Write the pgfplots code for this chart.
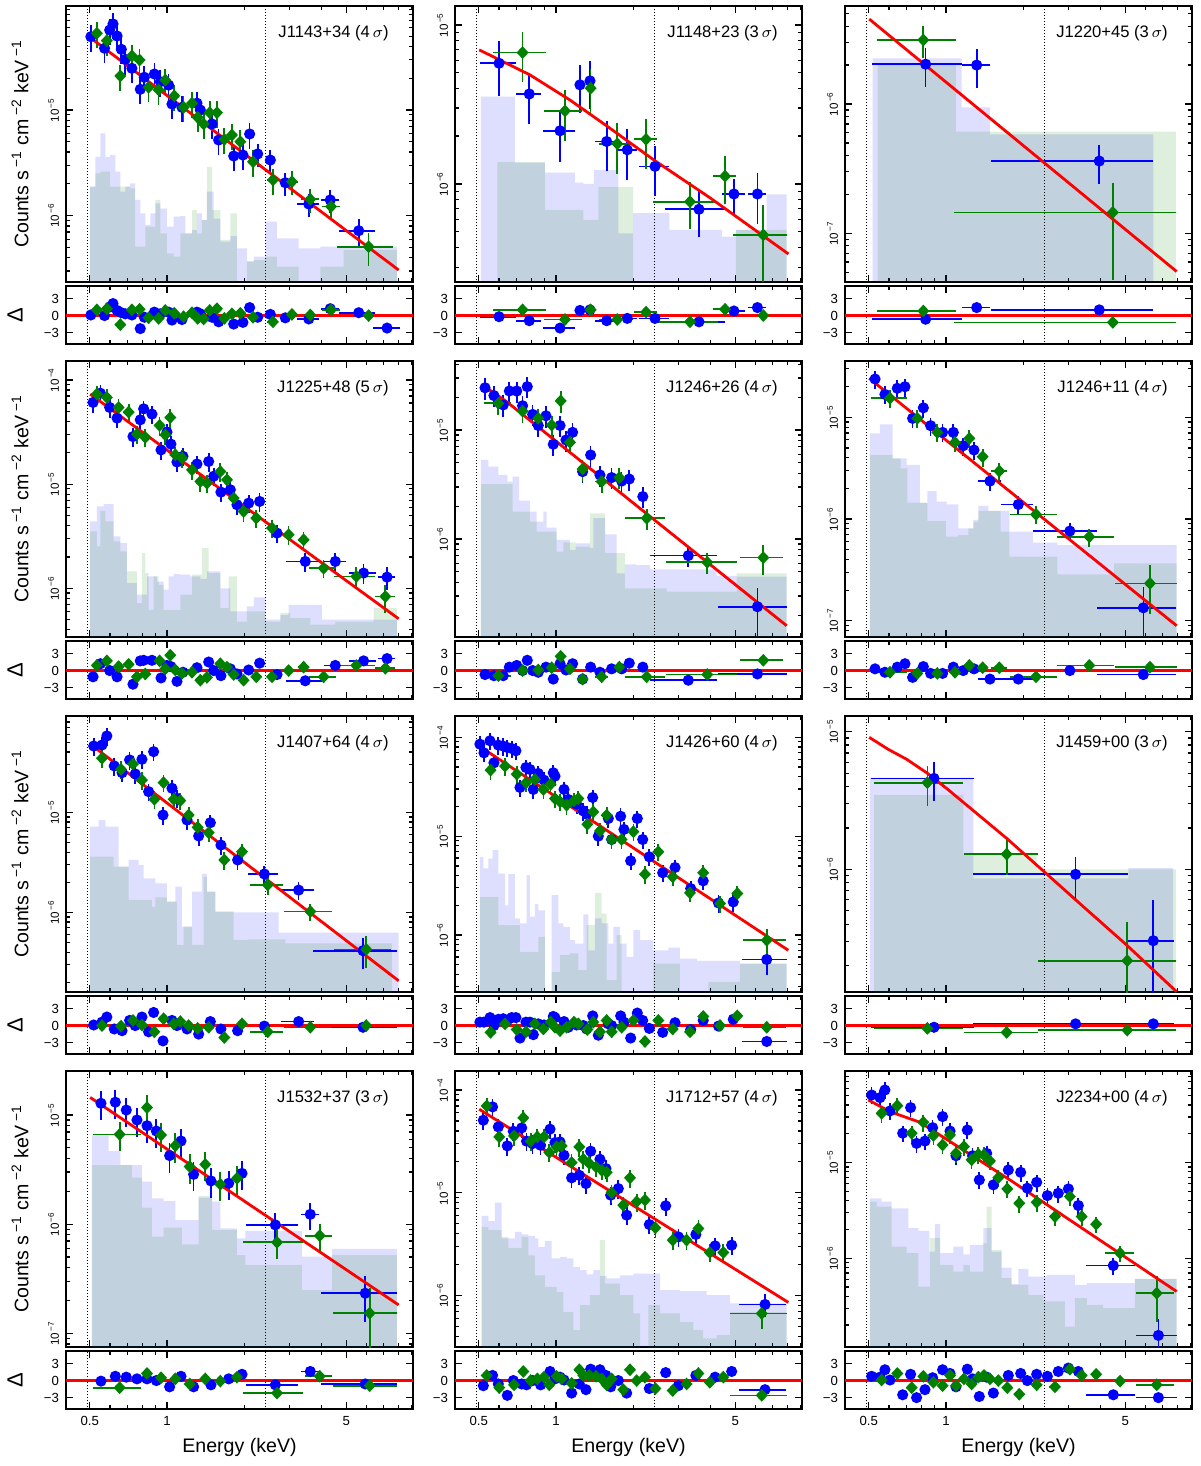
\documentclass[border=0pt]{standalone}
\usepackage{fontspec}
\setmainfont{Liberation Sans}
\usepackage{pgfplots}
\usepackage{pgfplotstable}
\pgfplotsset{compat=1.18}
\ExplSyntaxOn
\cs_set_protected:Npn \__mark_update_structure: { }
\ExplSyntaxOff
\definecolor{dblue}{rgb}{0,0,1}
\definecolor{dgreen}{rgb}{0,0.5,0}
\pgfdeclareplotmark{bdot}{\pgfpathcircle{\pgfpointorigin}{2.8pt}\pgfusepathqfill}
\pgfdeclareplotmark{gdia}{\pgfpathmoveto{\pgfqpoint{0pt}{3.2pt}}\pgfpathlineto{\pgfqpoint{3.0pt}{0pt}}\pgfpathlineto{\pgfqpoint{0pt}{-3.2pt}}\pgfpathlineto{\pgfqpoint{-3.0pt}{0pt}}\pgfpathclose\pgfusepathqfill}
\newcommand{\ylab}{Counts s\,\textsuperscript{−1} cm\,\textsuperscript{−2} keV\,\textsuperscript{−1}}
\newcommand{\MainAx}[3]{%
\begin{axis}[scale only axis, width=173.5pt, height=138pt, xmode=log, ymode=log, xmin=0.404, xmax=9.1,
 axis line style={line width=0.85pt}, tick align=inside, xtick pos=both, ytick pos=both,
 major tick length=3.5pt, minor tick length=2.2pt, tick style={black, line width=0.6pt},
 xtick={0.5,1,5}, minor xtick={0.6,0.7,0.8,0.9,2,3,4,6,7,8,9}, xticklabel=\empty,
 yticklabel={\pgfmathtruncatemacro{\myexp}{round(-1*(\tick)/ln(10))}10\textsuperscript{\,−\myexp}},
 yticklabel style={font=\fontsize{5.8}{6}\selectfont, rotate=90, anchor=south},
 ylabel style={font=\fontsize{9.8}{11}\selectfont, at={(axis description cs:-0.1326,0.5)}, anchor=center},
 at={(#1)}, #2]
#3
\end{axis}}
\newcommand{\ResAx}[3]{%
\begin{axis}[scale only axis, width=173.5pt, height=29pt, xmode=log, xmin=0.404, xmax=9.1, ymin=-5, ymax=5.2,
 axis line style={line width=0.85pt}, tick align=inside, xtick pos=both, ytick pos=both,
 major tick length=3.5pt, minor tick length=2.2pt, tick style={black, line width=0.6pt},
 xtick={0.5,1,5}, minor xtick={0.6,0.7,0.8,0.9,2,3,4,6,7,8,9}, xticklabel=\empty,
 ytick={-3,0,3}, yticklabels={−3,0,3},
 tick label style={font=\fontsize{6.6}{7}\selectfont},
 ylabel style={font=\fontsize{11}{12}\selectfont, at={(axis description cs:-0.147,0.5)}, anchor=center},
 xlabel style={font=\fontsize{9.8}{11}\selectfont, at={(axis description cs:0.5,-0.655)}, anchor=center},
 at={(#1)}, #2]
#3
\end{axis}}
\newcommand{\BH}[1]{\addplot[const plot, draw=none, fill=dblue, fill opacity=0.13] coordinates {#1} --cycle;}
\newcommand{\GH}[1]{\addplot[const plot, draw=none, fill=dgreen, fill opacity=0.13] coordinates {#1} --cycle;}
\newcommand{\MDL}[1]{\addplot[red, line width=1.4pt, no marks] coordinates {#1};}
\newcommand{\LAB}[1]{\node[font=\fontsize{8.3}{9}\selectfont, anchor=east] at (rel axis cs:0.95,0.902) {#1};}
\newcommand{\mainplots}[2]{%
 \addplot[only marks, color=dblue, line width=0.85pt, mark=bdot,
   error bars/x dir=both, error bars/x explicit relative, error bars/y dir=both, error bars/y explicit relative,
   error bars/error mark=none, error bars/error bar style={line width=0.85pt}]
   table[x=x,y=y,x error=ex,y error=ey]{#1};
 \addplot[only marks, color=dgreen, line width=0.85pt, mark=gdia,
   error bars/x dir=both, error bars/x explicit relative, error bars/y dir=both, error bars/y explicit relative,
   error bars/error mark=none, error bars/error bar style={line width=0.85pt}]
   table[x=x,y=y,x error=ex,y error=ey]{#2};}
\newcommand{\resplots}[2]{%
 \addplot[black, line width=0.55pt, dash pattern=on 0.55pt off 0.95pt] coordinates {(0.49,-10) (0.49,10)};
 \addplot[black, line width=0.55pt, dash pattern=on 0.55pt off 0.95pt] coordinates {(2.42,-10) (2.42,10)};
 \addplot[only marks, color=dblue, line width=0.85pt, mark=bdot,
   error bars/x dir=both, error bars/x explicit relative, error bars/error mark=none, error bars/error bar style={line width=0.85pt}]
   table[x=x,y=r,x error=ex]{#1};
 \addplot[only marks, color=dgreen, line width=0.85pt, mark=gdia,
   error bars/x dir=both, error bars/x explicit relative, error bars/error mark=none, error bars/error bar style={line width=0.85pt}]
   table[x=x,y=r,x error=ex]{#2};
 \addplot[red, line width=1.4pt, no marks] coordinates {(0.3,0) (12,0)};}
\newcommand{\vlines}{%
 \addplot[black, line width=0.55pt, dash pattern=on 0.55pt off 0.95pt] coordinates {(0.49,1e-12) (0.49,1)};
 \addplot[black, line width=0.55pt, dash pattern=on 0.55pt off 0.95pt] coordinates {(2.42,1e-12) (2.42,1)};}

% ---------- J1143+34
\pgfplotstableread{
x ex y ey r
0.505 0.025 4.94e-5 0.28 0.1
0.571 0.025 3.84e-5 0.28 0.0
0.598 0.025 5.71e-5 0.28 1.5
0.616 0.025 6.52e-5 0.28 2.1
0.639 0.025 5.01e-5 0.28 0.9
0.664 0.025 3.75e-5 0.28 0.5
0.688 0.025 3.01e-5 0.28 0.3
0.730 0.025 2.48e-5 0.28 0.1
0.787 0.025 1.57e-5 0.28 -2.3
0.816 0.025 2.04e-5 0.28 -0.3
0.893 0.025 2.19e-5 0.28 0.6
0.942 0.025 1.85e-5 0.28 0.3
1.015 0.025 1.72e-5 0.28 0.6
1.046 0.025 1.14e-5 0.28 -0.8
1.144 0.025 1.06e-5 0.28 -0.7
1.309 0.025 1.16e-5 0.28 0.6
1.349 0.025 1.00e-5 0.28 0.3
1.498 0.025 7.38e-6 0.28 -0.3
1.590 0.025 5.20e-6 0.28 -1.1
1.820 0.025 3.67e-6 0.28 -1.5
1.978 0.025 3.75e-6 0.28 -1.2
2.10 0.03 5.93e-6 0.28 1.4
2.257 0.03 3.84e-6 0.25 -0.3
2.529 0.04 3.36e-6 0.25 0.2
2.893 0.05 2.05e-6 0.25 -0.4
3.57 0.10 1.29e-6 0.25 -0.6
4.33 0.08 1.41e-6 0.25 1.2
5.59 0.16 7.21e-7 0.28 0.5
7.21 0.12 1e-9 0.25 -2.2
}\Pab
\pgfplotstableread{
x ex y ey r
0.533 0.025 5.32e-5 0.28 1.0
0.583 0.025 4.53e-5 0.28 1.2
0.658 0.025 2.10e-5 0.28 -1.6
0.730 0.025 3.25e-5 0.28 1.0
0.782 0.025 2.97e-5 0.28 1.1
0.848 0.025 1.64e-5 0.28 -0.4
0.928 0.025 1.55e-5 0.28 -0.5
0.985 0.025 1.92e-5 0.28 0.9
1.068 0.025 1.36e-5 0.28 0.4
1.161 0.025 1.06e-5 0.28 -0.2
1.252 0.025 1.16e-5 0.28 0.5
1.317 0.025 8.52e-6 0.28 -0.5
1.390 0.025 7.38e-6 0.28 -0.6
1.467 0.025 9.44e-6 0.28 0.9
1.566 0.025 9.44e-6 0.28 1.2
1.673 0.03 5.27e-6 0.28 -0.5
1.792 0.03 5.80e-6 0.28 0.3
1.932 0.03 5.01e-6 0.28 0.4
2.165 0.04 3.24e-6 0.28 -0.3
2.589 0.05 2.18e-6 0.28 -1.1
3.07 0.06 2.10e-6 0.25 0.2
3.62 0.08 1.43e-6 0.25 0.1
4.36 0.08 1.22e-6 0.25 1.0
6.11 0.25 5.09e-7 0.35 0.0
}\Pag
% ---------- J1148+23
\pgfplotstableread{
x ex y ey r
0.600 0.16 5.74e-6 0.38 -0.2
0.787 0.11 3.68e-6 0.35 -0.9
1.037 0.14 2.16e-6 0.36 -2.2
1.240 0.045 4.20e-6 0.33 0.9
1.357 0.035 4.45e-6 0.33 1.0
1.576 0.10 1.85e-6 0.35 -0.9
1.897 0.09 1.64e-6 0.35 -0.5
2.432 0.13 1.29e-6 0.35 -0.5
3.61 0.26 6.93e-7 0.33 -1.1
4.94 0.10 8.65e-7 0.25 0.8
6.10 0.08 8.65e-7 0.35 1.4
}\Pbb
\pgfplotstableread{
x ex y ey r
0.741 0.23 6.70e-6 0.35 1.0
1.084 0.17 2.88e-6 0.35 -0.7
1.365 0.03 4.00e-6 0.33 1.0
1.734 0.15 1.79e-6 0.35 -0.7
2.244 0.10 1.91e-6 0.35 0.6
3.33 0.28 7.74e-7 0.33 -1.1
4.56 0.10 1.12e-6 0.33 1.1
6.43 0.24 4.78e-7 0.55 0.0
}\Pbg
% ---------- J1220+45
\pgfplotstableread{
x ex y ey r
0.833 0.38 2.03e-6 0.33 -0.65
1.317 0.127 2.0e-6 0.33 1.4
3.96 0.62 3.62e-7 0.33 1.0
}\Pcb
\pgfplotstableread{
x ex y ey r
0.816 0.34 3.13e-6 0.28 0.8
4.47 0.76 1.45e-7 0.7 -1.2
}\Pcg
% ---------- J1225+48
\pgfplotstableread{
x ex y ey r
0.515 0.025 6.08e-5 0.2 -1.1
0.550 0.025 7.46e-5 0.2 1.2
0.598 0.025 5.44e-5 0.2 0.0
0.639 0.025 4.30e-5 0.2 -1.1
0.737 0.025 2.86e-5 0.2 -2.4
0.787 0.025 4.14e-5 0.2 1.7
0.811 0.025 5.28e-5 0.2 1.8
0.874 0.025 4.70e-5 0.2 1.8
0.948 0.025 2.13e-5 0.2 -1.3
1.0 0.025 3.16e-5 0.2 0.9
1.036 0.025 2.42e-5 0.2 0.7
1.094 0.025 1.63e-5 0.2 -1.9
1.154 0.025 1.85e-5 0.2 -0.3
1.309 0.025 1.56e-5 0.2 0.5
1.454 0.025 1.65e-5 0.2 1.5
1.521 0.025 1.19e-5 0.2 0.0
1.623 0.025 8.38e-6 0.2 -0.9
1.766 0.025 8.83e-6 0.2 0.3
1.875 0.025 6.34e-6 0.2 -0.6
2.082 0.03 6.57e-6 0.2 0.1
2.297 0.03 6.82e-6 0.2 1.3
2.685 0.04 3.39e-6 0.2 -0.7
3.46 0.16 1.81e-6 0.2 -1.8
4.53 0.10 1.81e-6 0.2 0.9
5.84 0.12 1.40e-6 0.22 1.7
7.21 0.075 1.28e-6 0.25 2.1
}\Pdb
\pgfplotstableread{
x ex y ey r
0.533 0.025 7.31e-5 0.2 0.9
0.583 0.025 6.79e-5 0.2 1.7
0.648 0.025 5.44e-5 0.2 0.7
0.709 0.025 4.91e-5 0.2 1.1
0.764 0.025 3.02e-5 0.2 -1.1
0.823 0.025 2.81e-5 0.2 -0.6
0.936 0.025 3.66e-5 0.2 1.7
0.985 0.025 2.97e-5 0.2 0.3
1.030 0.025 4.36e-5 0.2 2.7
1.078 0.025 1.91e-5 0.2 0.1
1.144 0.025 1.78e-5 0.2 -0.5
1.252 0.025 1.37e-5 0.2 -0.3
1.349 0.025 1.06e-5 0.2 -1.7
1.432 0.025 1.02e-5 0.2 -1.2
1.614 0.025 1.32e-5 0.2 1.2
1.714 0.025 1.10e-5 0.2 0.6
1.820 0.025 7.34e-6 0.2 -0.7
1.99 0.03 5.47e-6 0.2 -1.7
2.229 0.03 4.72e-6 0.2 -1.1
2.566 0.04 3.79e-6 0.2 -1.1
2.98 0.04 3.27e-6 0.2 0.0
3.41 0.05 2.92e-6 0.2 0.6
4.08 0.12 1.56e-6 0.2 -1.1
5.47 0.18 1.30e-6 0.22 0.9
7.10 0.09 8.35e-7 0.3 0.4
}\Pdg
% ---------- J1246+26
\pgfplotstableread{
x ex y ey r
0.529 0.025 2.44e-5 0.22 -0.7
0.573 0.025 2.07e-5 0.22 -0.9
0.623 0.025 1.70e-5 0.22 -0.9
0.658 0.025 2.28e-5 0.22 0.6
0.703 0.025 2.28e-5 0.22 0.9
0.741 0.025 1.67e-5 0.22 0.0
0.773 0.025 2.50e-5 0.22 1.8
0.811 0.025 1.39e-5 0.22 0.0
0.853 0.025 1.10e-5 0.22 -0.3
0.914 0.025 1.35e-5 0.22 0.6
0.976 0.025 7.40e-6 0.22 -1.5
1.037 0.025 1.10e-5 0.22 1.2
1.094 0.025 8.10e-6 0.22 0.1
1.161 0.025 9.52e-6 0.22 1.2
1.270 0.025 4.15e-6 0.22 -1.5
1.365 0.025 5.90e-6 0.22 0.6
1.484 0.025 3.87e-6 0.22 -0.3
1.648 0.025 3.66e-6 0.22 0.3
1.803 0.025 3.40e-6 0.22 0.3
1.931 0.025 3.55e-6 0.22 1.3
2.18 0.03 2.45e-6 0.22 0.6
3.28 0.29 7.04e-7 0.22 -1.7
6.10 0.30 2.39e-7 0.5 -0.6
}\Peb
\pgfplotstableread{
x ex y ey r
0.596 0.12 1.76e-5 0.22 -0.9
0.741 0.025 1.49e-5 0.22 0.0
0.853 0.025 1.28e-5 0.22 0.1
0.962 0.025 1.11e-5 0.22 0.5
1.043 0.025 1.85e-5 0.22 2.5
1.134 0.025 7.71e-6 0.22 0.3
1.270 0.025 4.39e-6 0.22 -1.5
1.507 0.06 3.36e-6 0.22 -1.1
1.766 0.025 3.66e-6 0.22 0.6
2.257 0.18 1.55e-6 0.22 -1.1
3.89 0.31 6.11e-7 0.22 -0.7
6.43 0.19 6.74e-7 0.3 1.8
}\Peg
% ---------- J1246+11
\pgfplotstableread{
x ex y ey r
0.529 0.025 2.38e-5 0.2 0.3
0.578 0.025 1.68e-5 0.2 -0.3
0.646 0.025 1.93e-5 0.2 0.6
0.692 0.025 2.00e-5 0.2 1.2
0.741 0.025 9.77e-6 0.2 -1.2
0.816 0.025 1.24e-5 0.2 0.7
0.871 0.025 8.28e-6 0.2 -0.5
0.970 0.025 7.11e-6 0.2 -0.5
1.068 0.025 7.11e-6 0.2 0.6
1.168 0.025 5.26e-6 0.2 0.0
1.286 0.025 4.77e-6 0.2 0.3
1.484 0.10 2.36e-6 0.2 -1.5
1.914 0.14 1.39e-6 0.2 -1.5
3.04 0.28 7.62e-7 0.2 0.0
5.88 0.34 1.34e-7 0.6 -0.7
}\Pfb
\pgfplotstableread{
x ex y ey r
0.605 0.16 1.54e-5 0.2 -0.3
0.773 0.025 9.77e-6 0.2 -0.5
0.925 0.025 7.11e-6 0.2 -0.5
1.084 0.025 5.67e-6 0.2 -0.3
1.233 0.025 6.21e-6 0.2 0.9
1.390 0.025 4.10e-6 0.2 0.5
1.614 0.075 2.96e-6 0.2 0.5
2.244 0.21 1.11e-6 0.2 -1.1
3.62 0.25 6.70e-7 0.2 0.9
6.24 0.27 2.33e-7 0.5 0.6
}\Pfg
% ---------- J1407+64
\pgfplotstableread{
x ex y ey r
0.518 0.025 4.60e-5 0.2 0.1
0.558 0.025 4.71e-5 0.2 0.6
0.583 0.025 5.80e-5 0.2 1.5
0.623 0.025 2.91e-5 0.2 -0.6
0.668 0.025 2.49e-5 0.2 -0.9
0.715 0.025 3.34e-5 0.2 0.9
0.752 0.025 2.42e-5 0.2 0.0
0.799 0.025 3.39e-5 0.2 1.5
0.848 0.025 1.61e-5 0.2 -1.1
0.887 0.025 4.04e-5 0.2 2.3
0.965 0.025 9.40e-6 0.2 -2.7
1.046 0.025 1.74e-5 0.2 0.9
1.094 0.025 1.38e-5 0.2 0.0
1.197 0.025 8.38e-6 0.2 -0.6
1.329 0.025 5.80e-6 0.2 -1.5
1.476 0.025 7.88e-6 0.2 0.7
1.623 0.025 4.71e-6 0.2 -0.6
1.886 0.025 3.34e-6 0.2 -0.9
2.396 0.135 2.42e-6 0.2 -0.1
3.26 0.15 1.67e-6 0.2 0.7
5.81 0.36 4.14e-7 0.35 -0.3
}\Pgb
\pgfplotstableread{
x ex y ey r
0.558 0.025 3.47e-5 0.2 0.0
0.662 0.025 2.69e-5 0.2 -0.1
0.737 0.025 3.04e-5 0.2 0.9
0.799 0.025 2.10e-5 0.2 0.1
0.893 0.025 1.35e-5 0.2 -1.1
0.970 0.025 1.98e-5 0.2 1.2
1.062 0.025 1.35e-5 0.2 0.3
1.127 0.025 1.31e-5 0.2 0.7
1.215 0.025 9.40e-6 0.2 0.0
1.317 0.025 7.08e-6 0.2 -0.5
1.454 0.025 6.26e-6 0.2 -0.3
1.673 0.025 3.34e-6 0.2 -2.1
1.961 0.025 4.04e-6 0.2 0.3
2.47 0.15 1.88e-6 0.2 -1.1
3.62 0.21 1.02e-6 0.2 -0.3
5.98 0.25 4.27e-7 0.35 0.0
}\Pgg
% ---------- J1426+60
\pgfplotstableread{
x ex y ey r
0.505 0.025 8.53e-5 0.2 0.6
0.524 0.025 6.97e-5 0.2 0.6
0.553 0.025 9.22e-5 0.2 1.4
0.573 0.025 5.52e-5 0.2 0.0
0.596 0.025 8.34e-5 0.2 1.1
0.623 0.025 8.15e-5 0.2 1.2
0.646 0.025 7.89e-5 0.2 0.9
0.672 0.025 7.71e-5 0.2 1.4
0.698 0.025 7.31e-5 0.2 1.4
0.724 0.025 3.11e-5 0.2 -2.2
0.764 0.025 4.95e-5 0.2 0.6
0.792 0.025 4.73e-5 0.2 0.6
0.816 0.025 2.97e-5 0.2 -1.6
0.853 0.025 4.31e-5 0.2 0.3
0.898 0.025 3.69e-5 0.2 0.1
0.976 0.025 4.38e-5 0.2 1.6
0.991 0.025 4.05e-5 0.2 1.4
1.075 0.025 2.97e-5 0.2 0.7
1.117 0.025 2.35e-5 0.2 -0.3
1.204 0.025 2.11e-5 0.2 0.1
1.278 0.025 1.80e-5 0.2 0.0
1.317 0.025 1.67e-5 0.2 -0.6
1.390 0.025 2.46e-5 0.2 1.7
1.462 0.025 1.00e-5 0.2 -1.7
1.600 0.025 1.51e-5 0.2 0.3
1.648 0.025 9.25e-6 0.2 0.0
1.787 0.025 1.59e-5 0.2 1.7
1.841 0.025 1.17e-5 0.2 0.6
1.955 0.025 5.63e-6 0.2 -2.2
2.075 0.025 1.51e-5 0.2 2.2
2.178 0.025 9.25e-6 0.2 0.9
2.311 0.025 6.18e-6 0.2 -0.5
2.606 0.03 4.26e-6 0.2 -1.2
2.911 0.03 4.82e-6 0.2 0.5
3.35 0.03 2.95e-6 0.2 -0.7
3.75 0.03 3.53e-6 0.2 0.9
4.30 0.04 2.11e-6 0.2 -0.1
4.91 0.04 2.16e-6 0.2 1.1
6.63 0.20 5.65e-7 0.3 -2.8
}\Phb
\pgfplotstableread{
x ex y ey r
0.556 0.025 4.66e-5 0.2 -1.2
0.633 0.025 5.11e-5 0.2 0.3
0.703 0.025 4.24e-5 0.2 -0.7
0.764 0.025 3.47e-5 0.2 -1.1
0.828 0.025 3.75e-5 0.2 0.3
0.893 0.025 2.97e-5 0.2 -0.6
0.953 0.025 3.36e-5 0.2 0.6
0.991 0.025 2.40e-5 0.2 -0.3
1.037 0.025 2.23e-5 0.2 -0.9
1.100 0.025 2.06e-5 0.2 -0.3
1.175 0.025 2.28e-5 0.2 0.6
1.222 0.025 2.40e-5 0.2 0.3
1.325 0.025 1.32e-5 0.2 -0.7
1.398 0.025 1.76e-5 0.2 0.6
1.484 0.025 1.13e-5 0.2 -1.1
1.576 0.025 1.63e-5 0.2 0.9
1.648 0.025 9.25e-6 0.2 -1.1
1.803 0.025 9.25e-6 0.2 -0.3
2.003 0.025 1.11e-5 0.2 0.9
2.223 0.025 4.12e-6 0.2 -2.8
2.506 0.025 6.94e-6 0.2 0.9
2.851 0.03 3.88e-6 0.2 -0.6
3.33 0.03 2.67e-6 0.2 -1.1
3.75 0.03 4.26e-6 0.2 1.6
4.36 0.04 2.08e-6 0.2 0.0
5.09 0.04 2.63e-6 0.2 1.7
6.63 0.19 8.85e-7 0.3 -0.3
}\Phg
% ---------- J1459+00
\pgfplotstableread{
x ex y ey r
0.898 0.43 4.58e-6 0.32 -0.3
3.20 0.60 9.2e-7 0.33 0.3
6.43 0.20 3.03e-7 0.97 0.3
}\Pib
\pgfplotstableread{
x ex y ey r
0.846 0.38 4.26e-6 0.32 -0.5
1.724 0.32 1.29e-6 0.3 -1.2
5.09 0.55 2.17e-7 0.9 -0.8
}\Pig
% ---------- J1532+37
\pgfplotstableread{
x ex y ey r
0.553 0.025 1.28e-5 0.3 -0.1
0.629 0.025 1.31e-5 0.3 0.75
0.694 0.025 1.11e-5 0.3 0.6
0.764 0.025 9.0e-6 0.3 0.3
0.836 0.025 7.98e-6 0.3 0.3
0.909 0.025 7.13e-6 0.3 0.0
1.024 0.025 4.25e-6 0.3 -1.1
1.134 0.025 5.78e-6 0.3 0.75
1.270 0.025 2.86e-6 0.3 -1.1
1.484 0.025 2.49e-6 0.3 -0.75
1.740 0.025 2.37e-6 0.3 0.3
1.961 0.025 2.92e-6 0.3 1.1
2.645 0.23 9.84e-7 0.3 -0.75
3.62 0.08 1.23e-6 0.28 1.6
5.93 0.33 2.33e-7 0.45 -0.6
}\Pjb
\pgfplotstableread{
x ex y ey r
0.654 0.21 6.65e-6 0.3 -1.25
0.836 0.025 1.17e-5 0.3 1.25
0.948 0.025 6.56e-6 0.3 0.5
1.078 0.025 5.24e-6 0.3 0.3
1.226 0.025 3.37e-6 0.3 -0.6
1.410 0.025 3.53e-6 0.3 0.3
1.614 0.025 2.32e-6 0.3 -0.1
1.875 0.025 2.63e-6 0.3 0.6
2.685 0.26 6.82e-7 0.3 -2.2
3.94 0.12 7.85e-7 0.28 0.75
6.17 0.28 1.53e-7 0.7 -0.9
}\Pjg
% ---------- J1712+57
\pgfplotstableread{
x ex y ey r
0.521 0.025 5.08e-5 0.2 -0.9
0.566 0.025 6.85e-5 0.2 0.9
0.596 0.025 4.38e-5 0.2 -0.6
0.646 0.025 2.86e-5 0.2 -2.6
0.682 0.025 3.97e-5 0.2 0.0
0.735 0.025 4.28e-5 0.2 -0.6
0.768 0.025 3.18e-5 0.2 -0.75
0.811 0.025 3.01e-5 0.2 0.0
0.871 0.025 2.90e-5 0.2 -0.75
0.948 0.025 4.16e-5 0.2 1.6
0.991 0.025 3.08e-5 0.2 0.3
1.037 0.025 3.13e-5 0.2 0.6
1.075 0.025 2.32e-5 0.2 0.1
1.151 0.025 1.40e-5 0.2 -2.2
1.233 0.025 1.48e-5 0.2 -0.6
1.309 0.025 1.23e-5 0.2 -1.6
1.365 0.025 2.54e-5 0.2 2.0
1.484 0.025 2.12e-5 0.2 1.9
1.566 0.025 1.72e-5 0.2 0.9
1.634 0.025 9.50e-6 0.2 -1.1
1.750 0.025 1.10e-5 0.2 0.0
1.886 0.025 6.07e-6 0.2 -2.2
2.311 0.025 4.92e-6 0.2 -1.4
2.677 0.025 7.48e-6 0.2 1.4
3.0 0.03 3.73e-6 0.2 -0.9
3.51 0.03 3.94e-6 0.2 0.9
4.17 0.04 3.05e-6 0.2 0.6
4.84 0.04 3.10e-6 0.2 1.6
6.53 0.21 8.22e-7 0.25 -1.6
}\Pkb
\pgfplotstableread{
x ex y ey r
0.537 0.025 7.00e-5 0.2 0.9
0.601 0.025 3.50e-5 0.2 -1.25
0.686 0.025 3.58e-5 0.2 -0.75
0.746 0.025 5.36e-5 0.2 1.6
0.797 0.025 3.18e-5 0.2 0.0
0.846 0.025 3.50e-5 0.2 0.3
0.898 0.025 3.50e-5 0.2 0.6
0.942 0.025 2.47e-5 0.2 -0.75
1.006 0.025 2.80e-5 0.2 0.75
1.052 0.025 2.86e-5 0.2 0.3
1.151 0.025 1.97e-5 0.2 -0.5
1.233 0.025 2.80e-5 0.2 1.9
1.278 0.025 2.12e-5 0.2 0.9
1.349 0.025 1.93e-5 0.2 0.9
1.432 0.025 1.79e-5 0.2 0.75
1.507 0.025 1.66e-5 0.2 0.3
1.576 0.025 1.58e-5 0.2 -0.75
1.648 0.025 1.00e-5 0.2 0.3
1.830 0.025 7.59e-6 0.2 -1.6
1.943 0.025 1.40e-5 0.2 1.9
2.063 0.025 8.18e-6 0.2 0.0
2.223 0.025 8.49e-6 0.2 0.6
2.44 0.025 4.57e-6 0.2 -1.4
2.851 0.03 3.47e-6 0.2 -1.75
3.23 0.03 3.47e-6 0.2 -0.6
3.59 0.03 4.50e-6 0.2 1.25
3.98 0.04 2.63e-6 0.2 -0.3
4.49 0.04 2.63e-6 0.2 0.6
6.34 0.25 6.72e-7 0.3 -2.6
}\Pkg
% ---------- J2234+00
\pgfplotstableread{
x ex y ey r
0.513 0.025 5.09e-5 0.2 0.75
0.553 0.025 4.78e-5 0.2 0.6
0.578 0.025 5.74e-5 0.2 1.9
0.605 0.025 3.47e-5 0.2 0.1
0.678 0.025 2.03e-5 0.2 -2.5
0.728 0.025 3.76e-5 0.2 1.1
0.768 0.025 1.59e-5 0.2 -3.0
0.828 0.025 1.68e-5 0.2 -1.6
0.887 0.025 2.32e-5 0.2 0.5
0.970 0.025 3.03e-5 0.2 1.9
1.037 0.025 2.14e-5 0.2 1.25
1.094 0.025 1.18e-5 0.2 -1.1
1.211 0.025 2.19e-5 0.2 2.0
1.270 0.025 1.18e-5 0.2 0.3
1.349 0.025 6.59e-6 0.2 -2.8
1.441 0.025 1.25e-5 0.2 0.6
1.530 0.025 5.85e-6 0.2 -2.2
1.750 0.025 8.38e-6 0.2 0.9
1.955 0.025 7.92e-6 0.2 1.25
2.075 0.025 5.40e-6 0.2 0.0
2.257 0.025 6.23e-6 0.2 1.1
2.484 0.025 4.52e-6 0.2 0.75
2.74 0.025 4.78e-6 0.2 1.6
3.0 0.03 5.31e-6 0.2 2.2
3.28 0.03 3.56e-6 0.2 1.6
4.49 0.22 8.39e-7 0.2 -2.5
6.73 0.18 1.56e-7 0.5 -3.0
}\Plb
\pgfplotstableread{
x ex y ey r
0.561 0.025 3.28e-5 0.2 0.1
0.646 0.025 3.94e-5 0.2 1.25
0.735 0.025 2.03e-5 0.2 -1.25
0.816 0.025 2.64e-5 0.2 0.75
0.893 0.025 1.92e-5 0.2 -0.3
0.970 0.025 1.53e-5 0.2 -0.9
1.037 0.025 1.95e-5 0.2 0.9
1.094 0.025 1.25e-5 0.2 -0.9
1.175 0.025 1.47e-5 0.2 0.3
1.259 0.025 1.07e-5 0.2 -0.6
1.337 0.025 1.22e-5 0.2 0.6
1.406 0.025 1.20e-5 0.2 0.9
1.484 0.025 1.04e-5 0.2 0.3
1.600 0.025 6.97e-6 0.2 0.0
1.734 0.025 5.31e-6 0.2 -1.25
1.931 0.025 3.76e-6 0.2 -2.4
2.257 0.025 3.85e-6 0.2 -0.75
2.66 0.05 2.73e-6 0.2 -1.1
3.04 0.025 4.42e-6 0.2 2.0
3.38 0.03 2.73e-6 0.2 0.9
3.85 0.03 2.27e-6 0.2 1.1
4.77 0.13 1.13e-6 0.2 -0.1
6.63 0.17 4.31e-7 0.5 -0.75
}\Plg

\begin{document}
\begin{tikzpicture}
\useasboundingbox (0,0) rectangle (600pt,733pt);

% ================= Row 1 =================
\MainAx{33pt,592pt}{ymin=2.36e-7, ymax=9.64e-5, ylabel={\ylab}}{%
\BH{(0.502,1e-9)(0.502,1.88e-6)(0.526,3.61e-6)(0.550,6.0e-6)(0.575,3.61e-6)(0.601,3.75e-6)(0.629,2.61e-6)(0.658,1.69e-6)(0.688,1.88e-6)(0.719,2.02e-6)(0.752,1.41e-6)(0.787,1.05e-6)(0.823,8.2e-7)(0.861,1.05e-6)(0.901,1.31e-6)(0.942,1.17e-6)(1.0,7.9e-7)(1.062,9.8e-7)(1.127,9.9e-7)(1.179,6.8e-7)(1.252,7.3e-7)(1.309,1.05e-6)(1.369,9.1e-7)(1.432,1.69e-6)(1.521,9.4e-7)(1.614,5.7e-7)(1.766,6.4e-7)(1.875,4.9e-7)(2.05,3.7e-7)(2.18,4.1e-7)(2.42,8.8e-7)(2.68,6.1e-7)(3.26,4.9e-7)(3.96,5.1e-7)(4.88,5.1e-7)(7.88,1e-9)}
\GH{(0.502,1e-9)(0.502,1.88e-6)(0.526,2.52e-6)(0.550,2.61e-6)(0.601,1.88e-6)(0.719,1.81e-6)(0.752,5.1e-7)(0.823,7.9e-7)(0.901,1.41e-6)(0.942,6.8e-7)(1.0,4.4e-7)(1.062,4.1e-7)(1.127,6.8e-7)(1.252,1.13e-6)(1.309,6.8e-7)(1.369,9.1e-7)(1.432,2.9e-6)(1.498,1.13e-6)(1.614,5.9e-7)(1.766,1.05e-6)(1.875,1e-9)(2.05,3.7e-7)(2.18,3.8e-7)(2.42,4.1e-7)(2.68,3.3e-7)(3.26,1e-9)(3.96,3.3e-7)(4.88,4.75e-7)(7.88,1e-9)}
\vlines
\mainplots{\Pab}{\Pag}
\MDL{(0.5,4.88e-5)(8.0,3.06e-7)}
\LAB{J1143+34 (4\,$\sigma$)}}
\ResAx{33pt,561pt}{ylabel={Δ}}{\resplots{\Pab}{\Pag}}

\MainAx{227.5pt,592pt}{ymin=2.42e-7, ymax=1.315e-5}{%
\BH{(0.510,1e-9)(0.510,3.54e-6)(0.692,1.36e-6)(0.906,1.18e-6)(1.186,1.02e-6)(1.278,1.0e-6)(1.406,1.22e-6)(1.750,4.9e-7)(2.00,6.55e-7)(2.77,5.14e-7)(4.43,4.67e-7)(5.03,5.14e-7)(6.63,8.6e-7)(7.93,1e-9)}
\GH{(0.591,1e-9)(0.591,1.37e-6)(0.906,6.87e-7)(1.278,5.94e-7)(1.462,9.6e-7)(2.00,1e-9)(5.03,5.14e-7)(7.93,1e-9)}
\vlines
\mainplots{\Pbb}{\Pbg}
\MDL{(0.502,6.97e-6)(0.792,4.85e-6)(1.134,3.37e-6)(1.576,2.32e-6)(2.43,1.40e-6)(3.98,8.2e-7)(8.06,3.63e-7)}
\LAB{J1148+23 (3\,$\sigma$)}}
\ResAx{227.5pt,561pt}{}{\resplots{\Pbb}{\Pbg}}

\MainAx{422.5pt,592pt}{ymin=4.20e-8, ymax=5.73e-6}{%
\BH{(0.518,1e-9)(0.518,2.25e-6)(1.151,9.4e-7)(1.484,5.82e-7)(6.43,1e-9)}
\GH{(0.542,1e-9)(0.542,2.0e-6)(1.094,6.11e-7)(7.88,1e-9)}
\vlines
\mainplots{\Pcb}{\Pcg}
\MDL{(0.502,4.54e-6)(7.93,5.06e-8)}
\LAB{J1220+45 (3\,$\sigma$)}}
\ResAx{422.5pt,561pt}{}{\resplots{\Pcb}{\Pcg}}

% ================= Row 2 =================
\MainAx{33pt,414.5pt}{ymin=3.41e-7, ymax=1.52e-4, ylabel={\ylab}}{%
\BH{(0.502,1e-9)(0.502,4.38e-6)(0.533,6.11e-6)(0.566,6.43e-6)(0.620,3.15e-6)(0.658,2.72e-6)(0.698,1.12e-6)(0.764,8.7e-7)(0.836,1.30e-6)(0.914,1.16e-6)(0.970,9.7e-7)(1.015,1.30e-6)(1.062,1.37e-6)(1.127,1.35e-6)(1.233,1.30e-6)(1.349,1.23e-6)(1.432,1.45e-6)(1.614,1.0e-6)(1.766,6.0e-7)(2.05,6.7e-7)(2.18,8.2e-7)(2.42,5.0e-7)(2.77,5.57e-7)(2.98,6.95e-7)(4.02,5.0e-7)(7.88,1e-9)}
\GH{(0.502,1e-9)(0.502,3.52e-6)(0.533,2.52e-6)(0.550,5.55e-6)(0.575,4.38e-6)(0.620,2.82e-6)(0.658,2.26e-6)(0.698,1.45e-6)(0.764,7.2e-7)(0.799,2.18e-6)(0.823,1.40e-6)(0.848,6.2e-7)(0.887,1.30e-6)(0.928,1.08e-6)(0.970,6.2e-7)(1.127,8.7e-7)(1.252,1.35e-6)(1.369,2.43e-6)(1.454,1.40e-6)(1.614,6.45e-7)(1.739,1.30e-6)(1.875,4.8e-7)(2.05,6.0e-7)(2.42,4.8e-7)(2.77,5.8e-7)(3.03,5.18e-7)(3.62,4.47e-7)(4.53,4.8e-7)(6.39,6.45e-7)(7.88,1e-9)}
\vlines
\mainplots{\Pdb}{\Pdg}
\MDL{(0.502,7.31e-5)(8.0,5.1e-7)}
\LAB{J1225+48 (5\,$\sigma$)}}
\ResAx{33pt,383.5pt}{ylabel={Δ}}{\resplots{\Pdb}{\Pdg}}

\MainAx{227.5pt,414.5pt}{ymin=1.26e-7, ymax=4.30e-5}{%
\BH{(0.510,1e-9)(0.510,5.31e-6)(0.545,4.61e-6)(0.596,3.87e-6)(0.646,3.36e-6)(0.678,3.73e-6)(0.719,2.25e-6)(0.792,1.78e-6)(0.841,1.44e-6)(0.893,1.78e-6)(0.920,1.27e-6)(1.006,9.8e-7)(1.134,7.9e-7)(1.193,9.1e-7)(1.357,8.3e-7)(1.398,1.55e-6)(1.553,1.10e-6)(1.724,4.84e-7)(1.858,5.86e-7)(2.05,5.75e-7)(2.327,5.27e-7)(4.23,4.58e-7)(5.06,4.51e-7)(7.93,1e-9)}
\GH{(0.510,1e-9)(0.510,3.18e-6)(0.678,1.78e-6)(0.792,1.44e-6)(0.841,1.17e-6)(1.006,7.65e-7)(1.068,9.3e-7)(1.193,8.5e-7)(1.357,1.72e-6)(1.553,7.4e-7)(1.858,3.53e-7)(2.70,3.29e-7)(5.06,4.84e-7)(7.93,1e-9)}
\vlines
\mainplots{\Peb}{\Peg}
\MDL{(0.513,2.62e-5)(0.642,1.82e-5)(7.93,1.60e-7)}
\LAB{J1246+26 (4\,$\sigma$)}}
\ResAx{227.5pt,383.5pt}{}{\resplots{\Peb}{\Peg}}

\MainAx{422.5pt,414.5pt}{ymin=6.92e-8, ymax=3.58e-5}{%
\BH{(0.505,1e-9)(0.505,6.97e-6)(0.553,8.53e-6)(0.620,3.96e-6)(0.703,3.40e-6)(0.792,1.43e-6)(0.846,1.88e-6)(0.920,1.48e-6)(1.006,1.39e-6)(1.117,8.1e-7)(1.278,9.8e-7)(1.337,1.35e-6)(1.462,1.20e-6)(1.766,7.5e-7)(2.18,5.85e-7)(2.72,5.55e-7)(7.93,1e-9)}
\GH{(0.505,1e-9)(0.505,4.27e-6)(0.620,3.96e-6)(0.666,3.15e-6)(0.707,1.45e-6)(0.846,9.6e-7)(1.0,6.7e-7)(1.117,6.96e-7)(1.222,8.1e-7)(1.278,9.4e-7)(1.337,1.20e-6)(1.634,7.5e-7)(1.766,4.26e-7)(2.72,2.86e-7)(4.52,3.67e-7)(7.93,1e-9)}
\vlines
\mainplots{\Pfb}{\Pfg}
\MDL{(0.502,2.42e-5)(7.93,8.93e-8)}
\LAB{J1246+11 (4\,$\sigma$)}}
\ResAx{422.5pt,383.5pt}{}{\resplots{\Pfb}{\Pfg}}

% ================= Row 3 =================
\MainAx{33pt,237pt}{ymin=1.60e-7, ymax=9.18e-5, ylabel={\ylab}}{%
\BH{(0.502,1e-9)(0.502,7.19e-6)(0.542,8.38e-6)(0.575,7.19e-6)(0.648,2.86e-6)(0.709,3.34e-6)(0.775,2.97e-6)(0.811,2.19e-6)(0.901,1.95e-6)(1.0,1.28e-6)(1.078,1.81e-6)(1.144,7.2e-7)(1.252,1.61e-6)(1.369,2.42e-6)(1.432,1.61e-6)(1.543,1.02e-6)(1.820,1.0e-6)(2.725,6.26e-7)(8.0,1e-9)}
\GH{(0.502,1e-9)(0.502,3.60e-6)(0.620,2.86e-6)(0.709,1.33e-6)(0.874,1.14e-6)(0.901,1.41e-6)(1.0,1.28e-6)(1.094,4.72e-7)(1.161,7.2e-7)(1.252,4.72e-7)(1.390,2.27e-6)(1.432,1.61e-6)(1.543,1.02e-6)(1.820,5.3e-7)(2.082,5.37e-7)(2.893,4.9e-7)(7.54,1e-9)}
\vlines
\mainplots{\Pgb}{\Pgg}
\MDL{(0.502,4.82e-5)(8.0,2.07e-7)}
\LAB{J1407+64 (4\,$\sigma$)}}
\ResAx{33pt,206pt}{ylabel={Δ}}{\resplots{\Pgb}{\Pgg}}

\MainAx{227.5pt,237pt}{ymin=2.65e-7, ymax=1.644e-4}{%
\BH{(0.505,1e-9)(0.505,6.18e-6)(0.521,4.71e-6)(0.545,5.94e-6)(0.566,7.21e-6)(0.596,4.19e-6)(0.633,2.0e-6)(0.652,4.12e-6)(0.692,1.47e-6)(0.724,1.31e-6)(0.768,4.03e-6)(0.792,1.53e-6)(0.828,2.05e-6)(0.853,1.78e-6)(0.906,1e-9)(0.962,2.53e-6)(1.021,1.31e-6)(1.068,1.21e-6)(1.134,8.86e-7)(1.186,8.2e-7)(1.278,1.62e-6)(1.337,7.0e-7)(1.419,1.47e-6)(1.507,1.31e-6)(1.600,8.2e-7)(1.673,1.21e-6)(1.776,8.2e-7)(1.886,6.0e-7)(2.003,1.12e-6)(2.126,8.86e-7)(2.396,7.0e-7)(2.74,7.47e-7)(3.04,5.78e-7)(3.54,5.47e-7)(5.21,5.14e-7)(7.93,1e-9)}
\GH{(0.505,1e-9)(0.505,2.43e-6)(0.596,1.26e-6)(0.724,6.75e-7)(0.853,9.57e-7)(0.906,1e-9)(0.962,4.23e-7)(1.037,6.25e-7)(1.134,6.5e-7)(1.222,4.4e-7)(1.317,1.26e-6)(1.419,2.67e-6)(1.507,1.65e-6)(1.576,3.49e-7)(1.724,9.96e-7)(1.803,1e-9)(2.396,5.14e-7)(3.04,1e-9)(3.93,3.36e-7)(5.21,5.14e-7)(7.93,1e-9)}
\vlines
\mainplots{\Phb}{\Phg}
\MDL{(0.502,8.15e-5)(8.05,7.0e-7)}
\LAB{J1426+60 (4\,$\sigma$)}}
\ResAx{227.5pt,206pt}{}{\resplots{\Phb}{\Phg}}

\MainAx{422.5pt,237pt}{ymin=1.285e-7, ymax=1.30e-5}{%
\BH{(0.505,1e-9)(0.505,4.63e-6)(1.278,8.6e-7)(5.14,1.02e-6)(7.69,1e-9)}
\GH{(0.524,1e-9)(0.524,3.47e-6)(1.168,1.29e-6)(2.257,1.0e-6)(7.88,1e-9)}
\vlines
\mainplots{\Pib}{\Pig}
\MDL{(0.502,9.1e-6)(0.596,7.44e-6)(0.703,6.30e-6)(0.841,5.03e-6)(1.006,3.87e-6)(1.204,2.93e-6)(1.724,1.68e-6)(2.47,9.25e-7)(3.43,5.36e-7)(5.06,2.82e-7)(7.93,1.29e-7)}
\LAB{J1459+00 (3\,$\sigma$)}}
\ResAx{422.5pt,206pt}{}{\resplots{\Pib}{\Pig}}

% ================= Row 4 =================
\MainAx{33pt,59.5pt}{ymin=7.50e-8, ymax=2.53e-5, ylabel={\ylab}}{%
\BH{(0.510,1e-9)(0.510,6.56e-6)(0.592,4.68e-6)(0.658,3.48e-6)(0.799,2.45e-6)(0.874,1.72e-6)(0.970,1.63e-6)(1.078,1.09e-6)(1.329,1.75e-6)(1.498,1.61e-6)(1.614,9.16e-7)(1.875,7.43e-7)(2.02,8.67e-7)(3.36,5.05e-7)(4.40,5.93e-7)(7.88,1e-9)}
\GH{(0.510,1e-9)(0.510,3.48e-6)(0.730,2.67e-6)(0.799,1.42e-6)(0.874,7.69e-7)(0.970,9.3e-7)(1.144,6.55e-7)(1.329,1.82e-6)(1.498,8.85e-7)(1.875,5.22e-7)(2.02,4.23e-7)(3.36,2.49e-7)(4.40,5.22e-7)(7.88,1e-9)}
\vlines
\mainplots{\Pjb}{\Pjg}
\MDL{(0.502,1.45e-5)(8.0,1.82e-7)}
\LAB{J1532+37 (3\,$\sigma$)}}
\ResAx{33pt,28.5pt}{ylabel={Δ}, xticklabels={0.5,1,5}, xlabel={Energy (keV)}}{\resplots{\Pjb}{\Pjg}}

\MainAx{227.5pt,59.5pt}{ymin=3.17e-7, ymax=1.53e-4}{%
\BH{(0.513,1e-9)(0.513,5.97e-6)(0.545,5.30e-6)(0.578,8.05e-6)(0.614,3.60e-6)(0.692,4.18e-6)(0.735,3.94e-6)(0.780,3.82e-6)(0.828,3.60e-6)(0.853,2.98e-6)(0.906,3.39e-6)(0.962,2.30e-6)(1.037,2.39e-6)(1.100,2.30e-6)(1.168,1.91e-6)(1.240,1.77e-6)(1.317,1.61e-6)(1.398,1.77e-6)(1.484,1.56e-6)(1.576,1.47e-6)(1.776,1.58e-6)(2.003,1.64e-6)(2.544,1.13e-6)(3.04,1.11e-6)(3.87,1.01e-6)(4.77,8.4e-7)(7.93,1e-9)}
\GH{(0.513,1e-9)(0.513,4.67e-6)(0.545,4.34e-6)(0.614,3.73e-6)(0.652,2.92e-6)(0.735,3.73e-6)(0.780,2.47e-6)(0.828,1.58e-6)(0.906,1.22e-6)(1.006,1.09e-6)(1.068,6.98e-7)(1.168,4.62e-7)(1.240,8.1e-7)(1.357,1.01e-6)(1.484,3.47e-6)(1.553,1.31e-6)(1.776,1.01e-6)(2.003,6.72e-7)(2.126,1e-9)(2.29,8.1e-7)(2.544,6.72e-7)(3.04,5.57e-7)(3.43,4.62e-7)(3.75,3.84e-7)(4.23,4.14e-7)(4.77,6.98e-7)(7.93,1e-9)}
\vlines
\mainplots{\Pkb}{\Pkg}
\MDL{(0.502,6.5e-5)(8.05,8.6e-7)}
\LAB{J1712+57 (4\,$\sigma$)}}
\ResAx{227.5pt,28.5pt}{xticklabels={0.5,1,5}, xlabel={Energy (keV)}}{\resplots{\Pkb}{\Pkg}}

\MainAx{422.5pt,59.5pt}{ymin=1.18e-7, ymax=9.08e-5}{%
\BH{(0.505,1e-9)(0.505,4.23e-6)(0.561,3.91e-6)(0.614,3.33e-6)(0.713,2.06e-6)(0.780,1.93e-6)(0.861,1.17e-6)(0.906,2.27e-6)(0.948,1.13e-6)(1.068,1.32e-6)(1.168,1.10e-6)(1.240,1.38e-6)(1.398,2.06e-6)(1.507,1.17e-6)(1.648,8.0e-7)(1.803,5.36e-7)(1.914,7.74e-7)(2.094,6.44e-7)(2.47,6.70e-7)(3.18,5.27e-7)(3.54,5.48e-7)(5.45,6.08e-7)(7.93,1e-9)}
\GH{(0.505,1e-9)(0.505,3.91e-6)(0.537,3.47e-6)(0.614,1.32e-6)(0.703,1.13e-6)(0.780,5.06e-7)(0.866,1.62e-6)(0.948,8.53e-7)(1.068,7.26e-7)(1.168,8.53e-7)(1.240,7.26e-7)(1.398,1.43e-6)(1.441,3.47e-6)(1.507,1.22e-6)(1.648,6.18e-7)(1.803,5.27e-7)(2.094,4.14e-7)(2.396,3.53e-7)(2.91,1.93e-7)(3.18,3.82e-7)(3.54,3.26e-7)(4.10,3.01e-7)(5.45,6.08e-7)(7.93,1e-9)}
\vlines
\mainplots{\Plb}{\Plg}
\MDL{(0.498,4.52e-5)(0.605,3.41e-5)(0.792,2.64e-5)(1.776,6.59e-6)(7.93,4.49e-7)}
\LAB{J2234+00 (4\,$\sigma$)}}
\ResAx{422.5pt,28.5pt}{xticklabels={0.5,1,5}, xlabel={Energy (keV)}}{\resplots{\Plb}{\Plg}}

\end{tikzpicture}
\end{document}
